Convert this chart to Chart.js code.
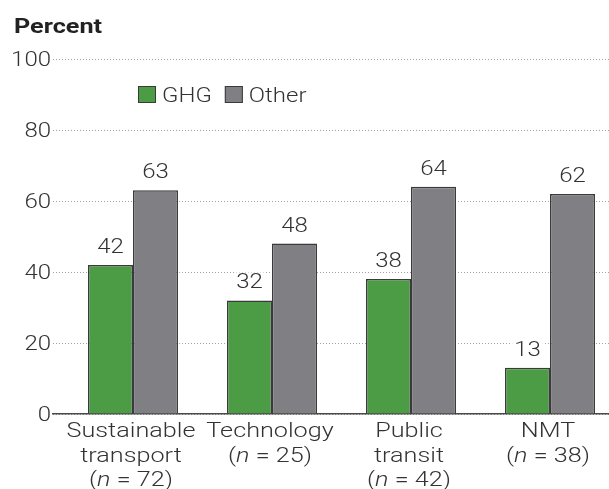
<!DOCTYPE html>
<html>
<head>
<meta charset="utf-8">
<script src="https://cdn.jsdelivr.net/npm/chart.js@4"></script>
<style>
  html, body { margin: 0; padding: 0; background: #fff; }
  #wrap { width: 609px; height: 489px; position: relative; }
</style>
</head>
<body>
<div id="wrap"><canvas id="chart"></canvas></div>
<script>
//? categories, one entry per line of the axis label
const categories = [
  ['Sustainable', 'transport'],
  ['Technology'],
  ['Public', 'transit'],
  ['NMT'],
]
const sampleSizes = [72, 25, 42, 38]

//? series
const seriesNames = ['GHG', 'Other']
const ghgValues = [42, 32, 38, 13]
const otherValues = [63, 48, 64, 62]

//? y axis
const yTicks = [0, 20, 40, 60, 80, 100]
const yTitle = 'Percent'

const FONT = 'Roboto, "Liberation Sans", sans-serif'
const SX = 1.2 // text in the original is set a bit wide
const TEXT = '#333'
const GREEN = '#4c9c45'
const GRAY = '#808084'
const EDGE = '#3a3a3a'

// draws text stretched horizontally, aligned on the stretched width
function wideText(ctx, txt, x, y, align) {
  const w = ctx.measureText(txt).width * SX
  let left = x
  if (align === 'center') left = x - w / 2
  if (align === 'right') left = x - w
  ctx.save()
  ctx.translate(left, y)
  ctx.scale(SX, 1)
  ctx.textAlign = 'left'
  ctx.fillText(txt, 0, 0)
  ctx.restore()
  return w
}

// value labels over the bars, white box behind so the dotted grid breaks
const barLabels = {
  id: 'barLabels',
  afterDatasetsDraw(chart) {
    const ctx = chart.ctx
    ctx.save()
    ctx.font = `300 20px ${FONT}`
    ctx.textBaseline = 'alphabetic'
    chart.data.datasets.forEach((ds, di) => {
      const meta = chart.getDatasetMeta(di)
      meta.data.forEach((bar, i) => {
        const txt = String(ds.data[i].y)
        const w = ctx.measureText(txt).width * SX
        const base = bar.y - 12
        ctx.fillStyle = '#fff'
        ctx.fillRect(bar.x - w / 2 - 2, base - 16, w + 4, 19)
        ctx.fillStyle = TEXT
        wideText(ctx, txt, bar.x, base, 'center')
      })
    })
    ctx.restore()
  }
}

// y tick labels, title, category names, legend
const textLayer = {
  id: 'textLayer',
  afterDraw(chart) {
    const ctx = chart.ctx
    const xs = chart.scales.x
    const ys = chart.scales.y
    const area = chart.chartArea
    const tickFont = `300 20px ${FONT}`
    const normal = `300 21px ${FONT}`
    const italic = `italic 300 21px ${FONT}`
    ctx.save()
    ctx.fillStyle = TEXT
    ctx.textBaseline = 'alphabetic'

    //* title
    ctx.font = `bold 21px ${FONT}`
    ctx.fillStyle = '#222'
    wideText(ctx, yTitle, 14, 33, 'left')

    //* y ticks
    ctx.font = tickFont
    ctx.fillStyle = TEXT
    yTicks.forEach(v => {
      wideText(ctx, String(v), area.left - 2, ys.getPixelForValue(v) + 7, 'right')
    })

    //* categories
    categories.forEach((lines, i) => {
      const x = xs.getPixelForValue(i) - 2
      let y = area.bottom + 23
      ctx.font = normal
      lines.forEach(l => {
        wideText(ctx, l, x, y, 'center')
        y += 24.5
      })
      // (n = 72) with italic n
      const parts = [['(', normal], ['n', italic], [` = ${sampleSizes[i]})`, normal]]
      let total = 0
      parts.forEach(p => { ctx.font = p[1]; total += ctx.measureText(p[0]).width * SX })
      let cx = x - total / 2
      parts.forEach(p => {
        ctx.font = p[1]
        cx += wideText(ctx, p[0], cx, y, 'left')
      })
    })

    //* legend
    ctx.font = tickFont
    let lx = 138
    const top = 86
    chart.data.datasets.forEach(ds => {
      ctx.fillStyle = ds.backgroundColor
      ctx.fillRect(lx, top, 18, 17)
      ctx.strokeStyle = EDGE
      ctx.lineWidth = 1
      ctx.strokeRect(lx + 0.5, top + 0.5, 17, 16)
      ctx.fillStyle = TEXT
      const w = wideText(ctx, ds.label, lx + 24, top + 16, 'left')
      lx += 24 + w + 13
    })
    ctx.restore()
  }
}

const ctx = document.getElementById('chart').getContext('2d')

const chart = new Chart(ctx, {
  type: 'bar',
  data: {
    datasets: [
      {
        label: seriesNames[0],
        data: ghgValues.map((v, i) => ({ x: i, y: v })),
        backgroundColor: GREEN,
        borderColor: EDGE,
        borderWidth: 1.5,
      },
      {
        label: seriesNames[1],
        data: otherValues.map((v, i) => ({ x: i, y: v })),
        backgroundColor: GRAY,
        borderColor: EDGE,
        borderWidth: 1.5,
      },
    ],
  },
  options: {
    responsive: true,
    maintainAspectRatio: false,
    animation: false,
    devicePixelRatio: 1,
    categoryPercentage: 0.6475,
    barPercentage: 1,
    layout: { padding: { left: 53, right: 0, top: 59, bottom: 75 } },
    scales: {
      x: {
        type: 'linear',
        offset: false,
        min: -0.5755,
        max: 3.4245,
        afterBuildTicks: s => { s.ticks = categories.map((c, i) => ({ value: i })) },
        ticks: { display: false },
        grid: { display: false, drawTicks: false },
        border: { display: true, color: '#4a4a4a', width: 1.5 },
      },
      y: {
        min: 0,
        max: 100,
        afterBuildTicks: s => { s.ticks = yTicks.map(v => ({ value: v })) },
        ticks: { display: false },
        grid: { color: '#a0a0a0', lineWidth: 1, drawTicks: false },
        border: { display: false, dash: [1, 2] },
      },
    },
    plugins: {
      legend: { display: false },
      tooltip: { enabled: false },
      title: { display: false },
    },
  },
  plugins: [barLabels, textLayer],
})
</script>
</body>
</html>
